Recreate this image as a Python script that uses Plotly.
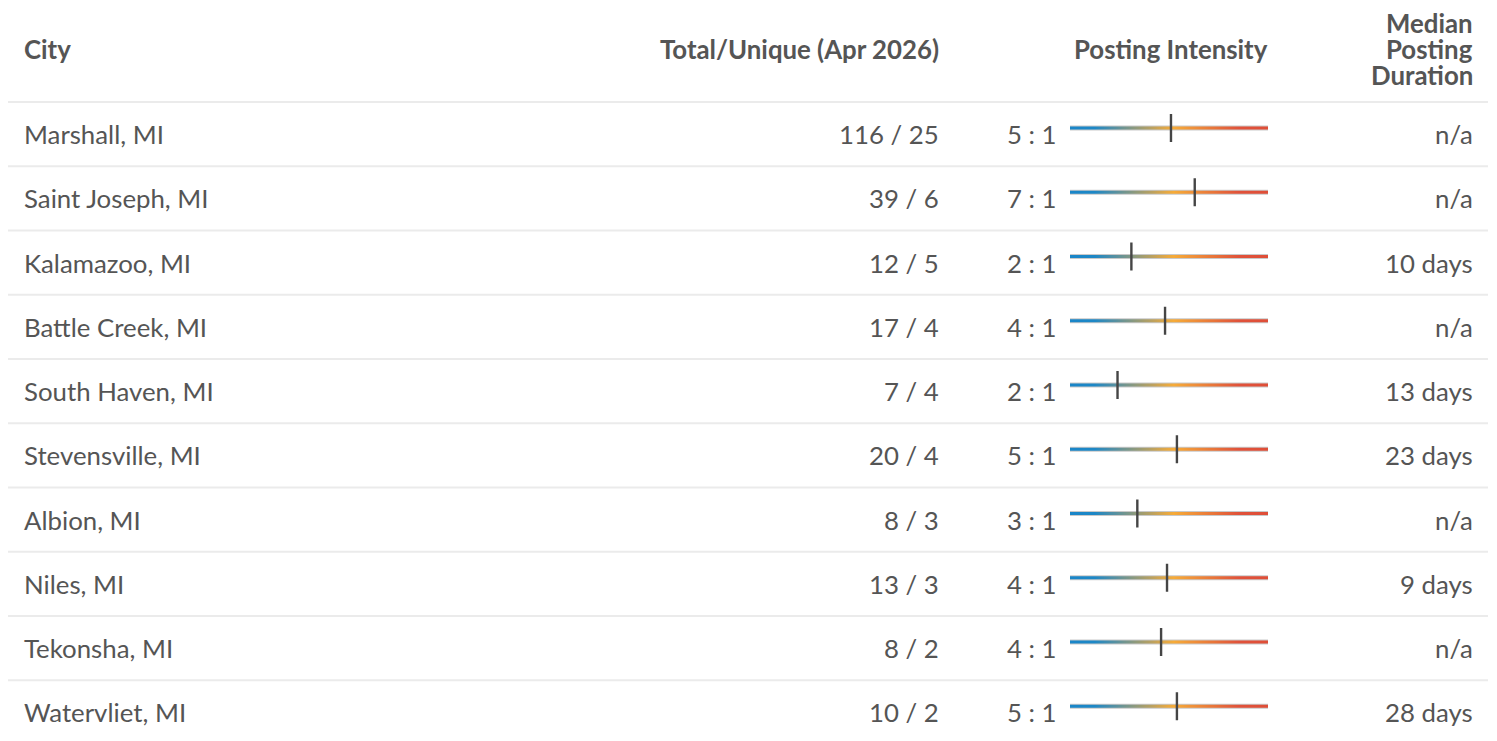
import numpy as np
import plotly.graph_objects as go

# ---------------- data ----------------
cities = ["Marshall, MI", "Saint Joseph, MI", "Kalamazoo, MI", "Battle Creek, MI",
          "South Haven, MI", "Stevensville, MI", "Albion, MI", "Niles, MI",
          "Tekonsha, MI", "Watervliet, MI"]
total_postings = [116, 39, 12, 17, 7, 20, 8, 13, 8, 10]
unique_postings = [25, 6, 5, 4, 4, 4, 3, 3, 2, 2]
ratio_labels = ["5 : 1", "7 : 1", "2 : 1", "4 : 1", "2 : 1",
                "5 : 1", "3 : 1", "4 : 1", "4 : 1", "5 : 1"]
# marker position on the intensity gauge (0 = low, 1 = high)
intensity_pos = [0.51, 0.63, 0.31, 0.48, 0.24, 0.54, 0.34, 0.49, 0.46, 0.54]
median_duration = ["n/a", "n/a", "10 days", "n/a", "13 days",
                   "23 days", "n/a", "9 days", "n/a", "28 days"]
headers = ["City", "Total/Unique (Apr 2026)", "Posting Intensity",
           ["Median", "Posting", "Duration"]]

# ---------------- style ----------------
PAGE_OFF = 8            # default body margin of the html page
W, H = 1497, 741
ROW_PX = 64.25          # pixels per row
FIRST_ROW_PX = 134 - PAGE_OFF
FONT = "Lato"
TXT = "#555555"
BODY_SIZE = 25.8
HEAD_SIZE = 25.8
GAUGE_X0, GAUGE_X1 = 1070 - PAGE_OFF, 1268 - PAGE_OFF
BAR_OFFSET = -6 / ROW_PX

def px_to_row(p):
    return (p - PAGE_OFF - FIRST_ROW_PX) / ROW_PX

y_top = (0 - FIRST_ROW_PX) / ROW_PX
y_bot = (H - FIRST_ROW_PX) / ROW_PX

def lx(p):   # left-anchored text x
    return p - PAGE_OFF - 2

def rx(p):   # right-anchored text x
    return p - PAGE_OFF + 3

fig = go.Figure()

# gradient gauges
colorscale = [[0.0, "#1a86c8"], [0.12, "#1d87c6"], [0.52, "#f6ab38"],
              [0.85, "#e0523a"], [1.0, "#df4e38"]]
N = 60
dx = 1.0 / N
xs = np.linspace(dx / 2, 1 - dx / 2, N)
half = 1.5 / ROW_PX
shapes = []
for i in range(len(cities)):
    yc = i + BAR_OFFSET
    shapes.append(dict(type="line", xref="x2", yref="y", x0=0, x1=1, y0=yc, y1=yc,
                       line=dict(color="#c9c9c9", width=5), layer="below"))
    fig.add_trace(go.Heatmap(
        x=xs, y=[yc - half / 2, yc + half / 2], z=[xs, xs],
        xaxis="x2", yaxis="y", colorscale=colorscale, zmin=0, zmax=1,
        zsmooth="best", showscale=False, hoverinfo="skip"))

fig.add_trace(go.Scatter(
    x=intensity_pos, y=[i + BAR_OFFSET for i in range(len(cities))],
    xaxis="x2", yaxis="y", mode="markers",
    marker=dict(symbol="line-ns", size=20, line=dict(width=2.4, color="#454545")),
    hoverinfo="skip", showlegend=False))

# row separators
for i in range(-1, len(cities) - 1):
    shapes.append(dict(type="line", xref="x", yref="y", x0=0, x1=1480,
                       y0=i + 0.5, y1=i + 0.5,
                       line=dict(color="#ebebeb", width=2), layer="below"))

ann = []
def add(text, x, y, anchor, bold=False, size=BODY_SIZE):
    ann.append(dict(text=f"<b>{text}</b>" if bold else text, x=x, y=y,
                    xref="x", yref="y", xanchor=anchor, yanchor="middle",
                    showarrow=False, font=dict(family=FONT, size=size, color=TXT)))

hy = px_to_row(49)
add(headers[0], lx(24), hy, "left", True, HEAD_SIZE)
add(headers[1], rx(938), hy, "right", True, HEAD_SIZE)
add(headers[2], rx(1267), hy, "right", True, HEAD_SIZE)
for line, p in zip(headers[3], [23, 49, 75]):
    add(line, rx(1472), px_to_row(p), "right", True, HEAD_SIZE)

for i, c in enumerate(cities):
    add(c, lx(24), i, "left")
    add(f"{total_postings[i]} / {unique_postings[i]}", rx(938), i, "right")
    add(ratio_labels[i], rx(1056), i, "right")
    add(median_duration[i], rx(1472), i, "right")

fig.update_layout(
    width=W, height=H, margin=dict(l=0, r=0, t=0, b=0),
    paper_bgcolor="white", plot_bgcolor="rgba(0,0,0,0)", showlegend=False,
    xaxis=dict(range=[0, W], visible=False, fixedrange=True),
    xaxis2=dict(range=[0, 1], domain=[GAUGE_X0 / W, GAUGE_X1 / W], visible=False,
                anchor="y", fixedrange=True),
    yaxis=dict(range=[y_bot, y_top], visible=False, fixedrange=True),
    shapes=shapes, annotations=ann)

fig.write_html("out.html", config={"displayModeBar": False})
